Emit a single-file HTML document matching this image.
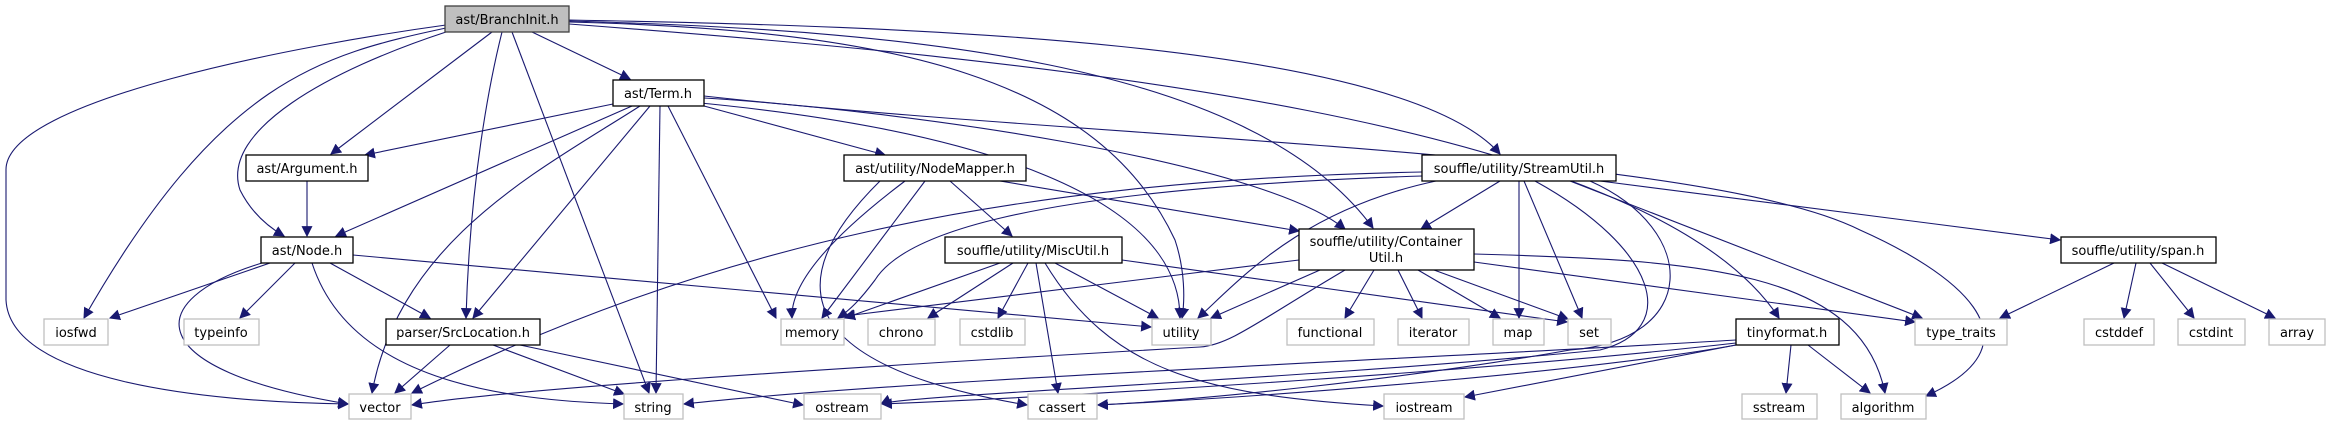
<!DOCTYPE html>
<html><head><meta charset="utf-8"><style>
html,body{margin:0;padding:0;background:#fff;}
svg{display:block;}
text{font-family:"DejaVu Sans","Liberation Sans",sans-serif;font-size:13px;fill:#000;}
.e{fill:none;stroke:#191970;stroke-width:1.2;marker-end:url(#a);}
.b{fill:#fff;stroke:#000;stroke-width:1.3;}
.g{fill:#fff;stroke:#bfbfbf;stroke-width:1.3;}
</style></head><body>
<svg width="2331" height="425" viewBox="0 0 2331 425" xmlns="http://www.w3.org/2000/svg">
<defs><marker id="a" viewBox="0 0 10 10" refX="9" refY="5" markerWidth="8" markerHeight="8" markerUnits="userSpaceOnUse" orient="auto"><path d="M0,1 L10,5 L0,9 z" fill="#191970" stroke="#191970"/></marker>
<marker id="a2" viewBox="0 0 10 10" refX="9" refY="5" markerWidth="10" markerHeight="10" orient="auto"><path d="M0,0 L10,5 L0,10 z" fill="#191970"/></marker></defs>
<style>.e{marker-end:url(#a2);stroke-width:1.1}</style>

<!-- BranchInit edges -->
<path class="e" d="M532,32 L630,79"/>
<path class="e" d="M492,32 L331,154"/>
<path class="e" d="M446,32 C330,70 220,130 240,190 C250,210 265,225 284,236"/>
<path class="e" d="M446,28 C320,55 220,80 84,318"/>
<path class="e" d="M446,25 C300,45 5,100 6,170 L6,300 C10,380 200,402 348,404"/>
<path class="e" d="M502,32 C490,80 470,180 466,318"/>
<path class="e" d="M512,32 L649,393"/>
<path class="e" d="M569,22 C900,30 1100,80 1175,240 C1185,270 1185,300 1182,318"/>
<path class="e" d="M569,21 C900,30 1250,60 1373,228"/>
<path class="e" d="M569,20 C900,26 1400,40 1500,154"/>
<path class="e" d="M569,24 C1050,60 1650,120 1779,318"/>

<!-- Term edges -->
<path class="e" d="M613,104 L365,155"/>
<path class="e" d="M632,106 L336,236"/>
<path class="e" d="M650,106 L473,318"/>
<path class="e" d="M640,106 C540,170 400,240 372,393"/>
<path class="e" d="M660,106 L656,393"/>
<path class="e" d="M668,106 L776,318"/>
<path class="e" d="M690,102 C990,130 1180,200 1180,318"/>
<path class="e" d="M704,106 L885,155"/>
<path class="e" d="M704,98 C900,110 1260,160 1345,229"/>
<path class="e" d="M704,96 C1100,140 1700,150 1860,230 C1950,270 2050,340 1926,396"/>

<!-- Argument -> Node -->
<path class="e" d="M307,181 L307,236"/>

<!-- Node edges -->
<path class="e" d="M270,263 L110,318"/>
<path class="e" d="M295,263 L240,318"/>
<path class="e" d="M330,263 L430,318"/>
<path class="e" d="M262,263 C140,300 140,370 348,404"/>
<path class="e" d="M312,263 C350,380 500,400 623,404"/>
<path class="e" d="M353,255 L1151,327"/>

<!-- SrcLocation edges -->
<path class="e" d="M450,345 L395,393"/>
<path class="e" d="M493,345 L624,394"/>
<path class="e" d="M520,345 L803,405"/>

<!-- NodeMapper edges -->
<path class="e" d="M905,181 C840,230 790,280 792,318"/>
<path class="e" d="M925,181 L822,318"/>
<path class="e" d="M950,181 L1012,236"/>
<path class="e" d="M1000,181 L1299,231"/>
<path class="e" d="M880,181 C800,260 760,360 1027,405"/>

<!-- MiscUtil edges -->
<path class="e" d="M1000,263 L845,318"/>
<path class="e" d="M1013,263 L928,318"/>
<path class="e" d="M1028,263 L998,318"/>
<path class="e" d="M1036,263 L1058,393"/>
<path class="e" d="M1045,263 C1110,370 1200,395 1383,406"/>
<path class="e" d="M1055,263 L1158,318"/>
<path class="e" d="M1122,260 L1567,322"/>

<!-- StreamUtil edges -->
<path class="e" d="M1422,172 C1000,180 700,250 412,393"/>
<path class="e" d="M1422,176 C1000,190 900,240 875,280 C860,300 850,310 838,318"/>
<path class="e" d="M1436,181 C1300,210 1240,280 1198,318"/>
<path class="e" d="M1500,181 L1421,229"/>
<path class="e" d="M1519,181 L1519,318"/>
<path class="e" d="M1524,181 L1582,318"/>
<path class="e" d="M1570,181 L1922,318"/>
<path class="e" d="M1600,181 L2060,240"/>
<path class="e" d="M1535,181 C1660,250 1680,330 1600,350 C1300,380 900,395 881,404"/>
<path class="e" d="M1590,181 C1700,230 1700,340 1570,350 C1400,380 1200,400 1098,405"/>

<!-- ContainerUtil edges -->
<path class="e" d="M1299,260 L845,316"/>
<path class="e" d="M1345,270 C1260,320 1230,345 1200,347 C800,370 500,390 412,405"/>
<path class="e" d="M1320,270 L1211,318"/>
<path class="e" d="M1374,270 L1345,318"/>
<path class="e" d="M1398,270 L1422,318"/>
<path class="e" d="M1418,270 L1500,318"/>
<path class="e" d="M1434,270 L1568,319"/>
<path class="e" d="M1474,262 L1915,322"/>
<path class="e" d="M1474,254 C1700,260 1860,270 1885,393"/>

<!-- tinyformat edges -->
<path class="e" d="M1791,345 L1786,393"/>
<path class="e" d="M1808,345 L1870,393"/>
<path class="e" d="M1736,340 C1400,360 900,380 684,404"/>
<path class="e" d="M1736,343 C1500,370 1100,395 882,404"/>
<path class="e" d="M1736,345 C1600,370 1300,395 1098,405"/>
<path class="e" d="M1736,345 L1465,397"/>

<!-- span edges -->
<path class="e" d="M2114,263 L2000,318"/>
<path class="e" d="M2136,263 L2124,318"/>
<path class="e" d="M2150,263 L2194,318"/>
<path class="e" d="M2162,263 L2275,318"/>

<!-- Nodes -->
<rect x="445" y="6" width="124" height="26" fill="#bfbfbf" stroke="#404040" stroke-width="1.3"/>
<text x="507" y="24" text-anchor="middle">ast/BranchInit.h</text>
<rect class="b" x="613" y="80" width="91" height="26"/><text x="658" y="98" text-anchor="middle">ast/Term.h</text>
<rect class="b" x="246" y="155" width="122" height="26"/><text x="307" y="173" text-anchor="middle">ast/Argument.h</text>
<rect class="b" x="261" y="237" width="92" height="26"/><text x="307" y="255" text-anchor="middle">ast/Node.h</text>
<rect class="b" x="844" y="155" width="182" height="26"/><text x="935" y="173" text-anchor="middle">ast/utility/NodeMapper.h</text>
<rect class="b" x="945" y="237" width="177" height="26"/><text x="1033" y="255" text-anchor="middle">souffle/utility/MiscUtil.h</text>
<rect class="b" x="1299" y="229" width="175" height="41"/><text x="1386" y="246" text-anchor="middle">souffle/utility/Container</text><text x="1386" y="262" text-anchor="middle">Util.h</text>
<rect class="b" x="1422" y="155" width="194" height="26"/><text x="1519" y="173" text-anchor="middle">souffle/utility/StreamUtil.h</text>
<rect class="b" x="386" y="319" width="154" height="26"/><text x="463" y="337" text-anchor="middle">parser/SrcLocation.h</text>
<rect class="b" x="1736" y="319" width="103" height="26"/><text x="1787" y="337" text-anchor="middle">tinyformat.h</text>
<rect class="b" x="2061" y="237" width="155" height="26"/><text x="2138" y="255" text-anchor="middle">souffle/utility/span.h</text>

<rect class="g" x="44" y="319" width="64" height="26"/><text x="76" y="337" text-anchor="middle">iosfwd</text>
<rect class="g" x="184" y="319" width="75" height="26"/><text x="221" y="337" text-anchor="middle">typeinfo</text>
<rect class="g" x="781" y="319" width="63" height="26"/><text x="812" y="337" text-anchor="middle">memory</text>
<rect class="g" x="868" y="319" width="67" height="26"/><text x="901" y="337" text-anchor="middle">chrono</text>
<rect class="g" x="960" y="319" width="65" height="26"/><text x="992" y="337" text-anchor="middle">cstdlib</text>
<rect class="g" x="1152" y="319" width="59" height="26"/><text x="1181" y="337" text-anchor="middle">utility</text>
<rect class="g" x="1287" y="319" width="87" height="26"/><text x="1330" y="337" text-anchor="middle">functional</text>
<rect class="g" x="1398" y="319" width="71" height="26"/><text x="1433" y="337" text-anchor="middle">iterator</text>
<rect class="g" x="1493" y="319" width="51" height="26"/><text x="1518" y="337" text-anchor="middle">map</text>
<rect class="g" x="1568" y="319" width="43" height="26"/><text x="1589" y="337" text-anchor="middle">set</text>
<rect class="g" x="1915" y="319" width="92" height="26"/><text x="1961" y="337" text-anchor="middle">type_traits</text>
<rect class="g" x="2084" y="319" width="70" height="26"/><text x="2119" y="337" text-anchor="middle">cstddef</text>
<rect class="g" x="2178" y="319" width="67" height="26"/><text x="2211" y="337" text-anchor="middle">cstdint</text>
<rect class="g" x="2269" y="319" width="56" height="26"/><text x="2297" y="337" text-anchor="middle">array</text>
<rect class="g" x="349" y="394" width="62" height="25"/><text x="380" y="412" text-anchor="middle">vector</text>
<rect class="g" x="624" y="394" width="59" height="25"/><text x="653" y="412" text-anchor="middle">string</text>
<rect class="g" x="804" y="394" width="77" height="25"/><text x="842" y="412" text-anchor="middle">ostream</text>
<rect class="g" x="1028" y="394" width="69" height="25"/><text x="1062" y="412" text-anchor="middle">cassert</text>
<rect class="g" x="1384" y="394" width="80" height="25"/><text x="1424" y="412" text-anchor="middle">iostream</text>
<rect class="g" x="1742" y="394" width="75" height="25"/><text x="1779" y="412" text-anchor="middle">sstream</text>
<rect class="g" x="1841" y="394" width="85" height="25"/><text x="1883" y="412" text-anchor="middle">algorithm</text>
</svg>
</body></html>
